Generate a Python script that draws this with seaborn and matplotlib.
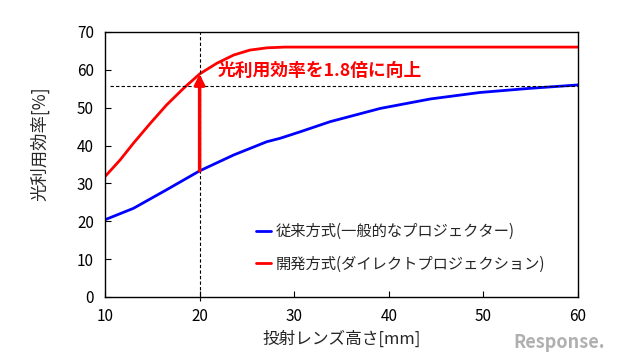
import numpy as np
import pandas as pd
import matplotlib
matplotlib.use("Agg")
import matplotlib.pyplot as plt
import seaborn as sns

# Data
conv_x = [10, 13.0, 16.5, 20, 23.6, 27.1, 28.5, 30.6, 33.8, 39.1, 44.4, 49.6, 54.9, 60]
conv_y = [20.4, 23.4, 28.3, 33.3, 37.5, 41.0, 41.9, 43.6, 46.3, 49.8, 52.3, 54.0, 55.1, 56.0]
dev_x = [10, 11.6, 13.0, 14.8, 16.5, 18.3, 20, 21.8, 23.6, 25.3, 27.1, 29, 35, 45, 60]
dev_y = [31.8, 36.2, 40.6, 45.9, 50.7, 55.1, 58.9, 61.7, 63.9, 65.2, 65.8, 66.0, 66.0, 66.0, 66.0]
series_names = ["従来方式(一般的なプロジェクター)", "開発方式(ダイレクトプロジェクション)"]
x_ticks = [10, 20, 30, 40, 50, 60]
y_ticks = [0, 10, 20, 30, 40, 50, 60, 70]
ref_x = 20
ref_y = 55.8
arrow_low = 33.3
arrow_high = 58.9
annotation = "光利用効率を1.8倍に向上"

sns.set_theme(style="white")
plt.rcParams['font.family'] = ['Noto Sans CJK JP', 'DejaVu Sans']

df = pd.DataFrame({
    "x": conv_x + dev_x,
    "y": conv_y + dev_y,
    "方式": [series_names[0]] * len(conv_x) + [series_names[1]] * len(dev_x),
})

fig = plt.figure(figsize=(6.27, 3.63), dpi=100)
ax = fig.add_axes([0.1675, 0.182, 0.7544, 0.730])

sns.lineplot(data=df, x="x", y="y", hue="方式", palette=["#0000ff", "#ff0000"],
             linewidth=2, ax=ax, legend=True, sort=True)

ax.set_xlim(10, 60)
ax.set_ylim(0, 70)
ax.set_xticks(x_ticks)
ax.set_yticks(y_ticks)
ax.tick_params(axis='x', direction='in', length=4, width=0.8, labelsize=11, pad=8, colors='black', bottom=True)
ax.tick_params(axis='y', direction='in', length=4, width=0.8, labelsize=11, pad=8, colors='black', left=True)
for s in ax.spines.values():
    s.set_color('black')
    s.set_linewidth(1)

ax.set_xlabel("投射レンズ高さ[mm]", fontsize=12, labelpad=4)
ax.set_ylabel("光利用効率[%]", fontsize=12.5)
ax.yaxis.set_label_coords(-0.118, 0.579)

# reference dashed lines
ax.axvline(ref_x, color='black', linestyle=(0, (3, 2)), linewidth=0.8, ymin=-0.015, clip_on=False)
ax.axhline(ref_y, xmin=0.01, color='black', linestyle=(0, (3, 2)), linewidth=0.8)

# arrow
ax.annotate("", xy=(ref_x, arrow_high), xytext=(ref_x, arrow_low),
            arrowprops=dict(arrowstyle="-|>,head_length=0.5,head_width=0.25", color='#ff0000', lw=2.5,
                            shrinkA=0, shrinkB=0))
ax.text(21.9, 59.6, annotation, color='#ff0000', fontsize=12.8, fontweight='bold', va='center', ha='left')

leg = ax.legend(loc='lower left', bbox_to_anchor=(0.29, 0.04), frameon=False, fontsize=11,
                handlelength=1.0, handletextpad=0.3, labelspacing=1.0, title=None)
for line in leg.get_lines():
    line.set_linewidth(2)

fig.text(0.965, 0.03, "Response.", color='#b0b0b0', fontsize=13, fontweight='bold', ha='right', va='bottom',
         style='italic')

fig.savefig("out.png", dpi=100)
